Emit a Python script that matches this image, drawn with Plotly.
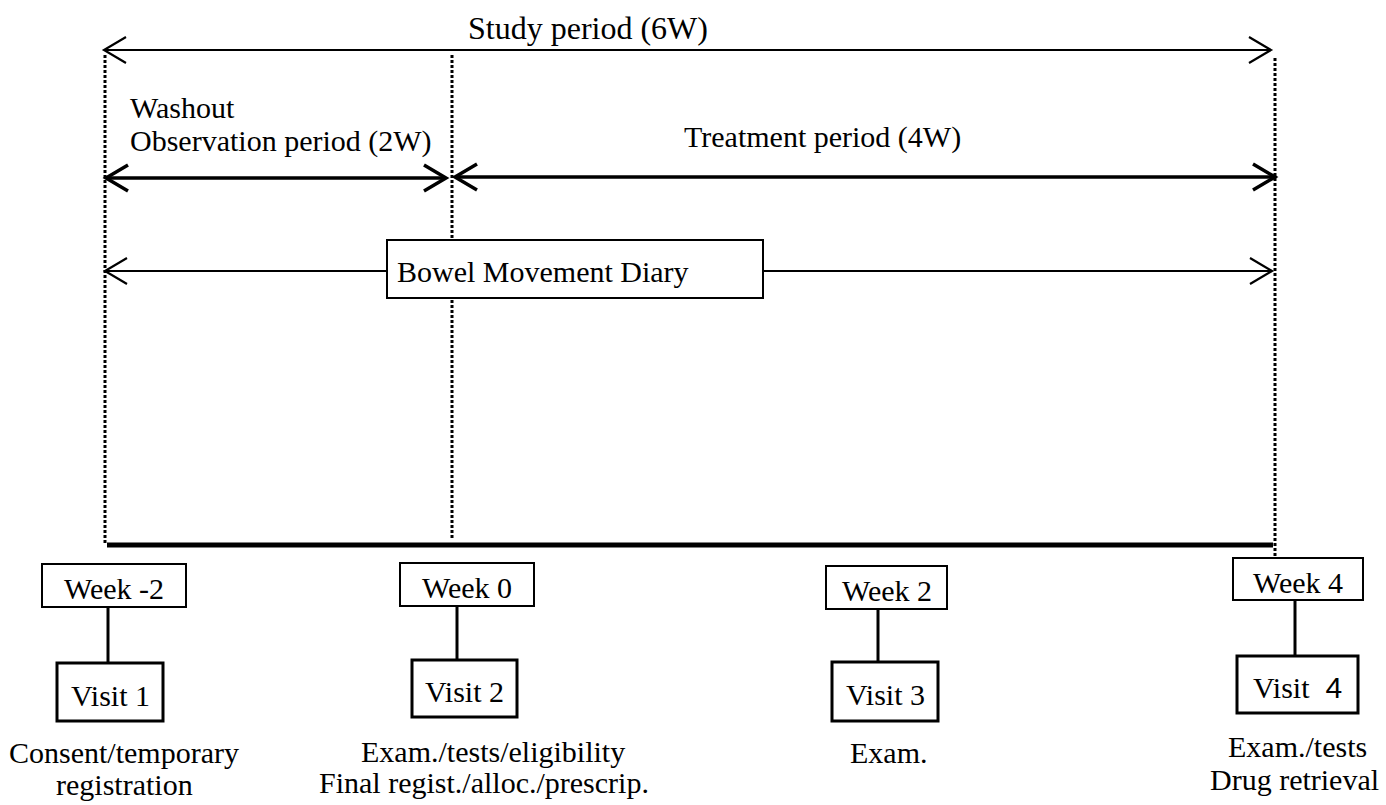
import plotly.graph_objects as go

# ---- diagram content ----
title_text = "Study period (6W)"
washout_lines = ["Washout", "Observation period (2W)"]
treatment_text = "Treatment period (4W)"
diary_text = "Bowel Movement Diary"
week_labels = ["Week -2", "Week 0", "Week 2", "Week 4"]
visit_labels = ["Visit 1", "Visit 2", "Visit 3", "Visit <span style='font-family:Liberation Sans'> 4</span>"]
visit_notes = [
    ["Consent/temporary", "registration"],
    ["Exam./tests/eligibility", "Final regist./alloc./prescrip."],
    ["Exam."],
    ["Exam./tests", "Drug retrieval"],
]

# ---- layout geometry (pixel space) ----
W, H = 1386, 805
week_boxes = [(42, 186, 564, 607), (400, 534, 563, 606), (826, 947, 566, 609), (1233, 1363, 558, 600)]
visit_boxes = [(57, 163, 663, 721), (412, 517, 660, 717), (832, 938, 662, 721), (1237, 1358, 656, 713)]
connector_x = [108, 457, 878, 1295]
note_x = [[124, 124], [493, 484], [888], [1297, 1294]]
note_y = [[752, 784], [751, 782], [752], [746, 779]]
dotted_lines = [(105, 55, 545), (452, 55, 540), (1275, 58, 556)]

FONT = "Liberation Serif"
BLACK = "#000000"

shapes = []
annotations = []


def line(x0, y0, x1, y1, w, dash=None):
    d = dict(type="line", xref="x", yref="y", x0=x0, y0=y0, x1=x1, y1=y1,
             line=dict(color=BLACK, width=w))
    if dash:
        d["line"]["dash"] = dash
    shapes.append(d)


def chevron(x, y, direction, w, dx=22, dy=13):
    s = -1 if direction == "right" else 1
    path = f"M {x + s*dx},{y - dy} L {x},{y} L {x + s*dx},{y + dy}"
    shapes.append(dict(type="path", xref="x", yref="y", path=path,
                       line=dict(color=BLACK, width=w)))


def arrow(x0, x1, y, w):
    line(x0, y, x1, y, w)
    chevron(x0, y, "left", w)
    chevron(x1, y, "right", w)


def rect(x0, x1, y0, y1, w):
    shapes.append(dict(type="rect", xref="x", yref="y", x0=x0, x1=x1, y0=y0, y1=y1,
                       line=dict(color=BLACK, width=w), fillcolor="white"))


def text(x, y, s, size=30, anchor="center"):
    annotations.append(dict(x=x, y=y, xref="x", yref="y", text=s, showarrow=False,
                            xanchor=anchor, yanchor="middle",
                            font=dict(family=FONT, size=size, color=BLACK)))


# dotted vertical guides
for (x, y0, y1) in dotted_lines:
    line(x, y0, x, y1, 3, dash="3px,2px")

# period arrows
arrow(104, 1271, 50, 2.2)
arrow(106, 446, 178, 3.5)
arrow(455, 1275, 177, 3.5)
arrow(105, 1272, 271, 2.2)

# diary box
rect(387, 763, 240, 298, 2)

# timeline
line(107, 545, 1273, 545, 5)

# week/visit boxes
for i in range(4):
    wx0, wx1, wy0, wy1 = week_boxes[i]
    vx0, vx1, vy0, vy1 = visit_boxes[i]
    line(connector_x[i], wy1, connector_x[i], vy0, 3)
    rect(wx0, wx1, wy0, wy1, 2)
    rect(vx0, vx1, vy0, vy1, 3)
    text((wx0 + wx1) / 2, (wy0 + wy1) / 2 + 3, week_labels[i])
    text((vx0 + vx1) / 2, (vy0 + vy1) / 2 + 3, visit_labels[i])
    for s, xx, yy in zip(visit_notes[i], note_x[i], note_y[i]):
        text(xx, yy, s)

# period texts
text(588, 28, title_text, size=32)
text(128, 107, washout_lines[0], anchor="left")
text(128, 141, washout_lines[1], anchor="left")
text(822, 137, treatment_text)
text(395, 271, diary_text, anchor="left")

fig = go.Figure()
fig.update_layout(
    width=W, height=H, margin=dict(l=0, r=0, t=0, b=0),
    paper_bgcolor="white", plot_bgcolor="white",
    font=dict(family=FONT),
    xaxis=dict(range=[0, W], visible=False, fixedrange=True),
    yaxis=dict(range=[H, 0], visible=False, fixedrange=True),
    shapes=shapes, annotations=annotations, showlegend=False,
)
fig.write_html("out.html", config={"displayModeBar": False},
               post_script="document.body.style.margin='0';")
